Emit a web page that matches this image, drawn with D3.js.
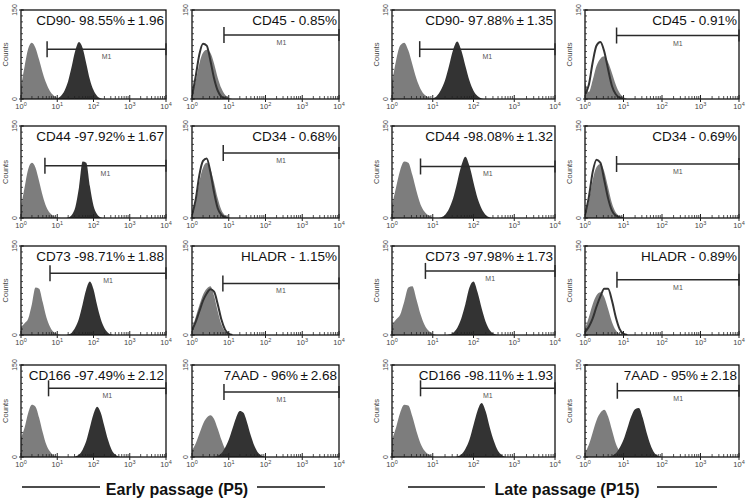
<!DOCTYPE html>
<html><head><meta charset="utf-8">
<script src="https://cdn.jsdelivr.net/npm/d3@7"></script>
<style>body{margin:0;background:#fff}svg{display:block}</style>
</head><body>
<svg id="c" width="746" height="499"></svg>
<script>
// ---------- data ----------
const decadeTicks = [1, 10, 100, 1000, 10000];
const countDomain = [0, 150];
const binStep = 0.1; // decades between samples

// panel order: row by row, columns = early(+), early(-), late(+), late(-)
const labels = [
  "CD90- 98.55%\u2009\u00b1\u20091.96", "CD45 - 0.85%", "CD90- 97.88%\u2009\u00b1\u20091.35", "CD45 - 0.91%",
  "CD44 -97.92%\u2009\u00b1\u20091.67", "CD34 - 0.68%", "CD44 -98.08%\u2009\u00b1\u20091.32", "CD34 - 0.69%",
  "CD73 -98.71%\u2009\u00b1\u20091.88", "HLADR - 1.15%", "CD73 -97.98%\u2009\u00b1\u20091.73", "HLADR - 0.89%",
  "CD166 -97.49%\u2009\u00b1\u20092.12", "7AAD - 96%\u2009\u00b1\u20092.68", "CD166 -98.11%\u2009\u00b1\u20091.93", "7AAD - 95%\u2009\u00b1\u20092.18"
];
const gateStart = [0.72, 0.87, 0.68, 0.82,  0.66, 0.85, 0.7, 0.82,  0.8, 0.84, 0.82, 0.83,  0.76, 0.87, 0.7, 0.84]; // log10 of gate start
const gateLevel = [84, 108, 84, 107,  85, 106, 84, 88,  104, 87, 108, 93,  112, 106, 112, 108]; // counts

// histogram counts, sampled every 0.1 decade starting at 10^0
const lightCounts = [
  [20, 55, 85, 95, 86, 66, 44, 26, 13, 6, 2, 1, 0],
  [8, 30, 60, 78, 83, 78, 60, 36, 18, 7, 2, 0],
  [27, 65, 90, 95, 82, 58, 34, 17, 7, 3, 1, 0],
  [30, 12, 32, 56, 68, 72, 62, 44, 24, 10, 3, 0],
  [18, 50, 80, 90, 82, 60, 36, 18, 8, 3, 1, 0],
  [6, 26, 60, 82, 90, 80, 58, 32, 13, 4, 1, 0],
  [20, 50, 78, 92, 90, 70, 44, 22, 10, 4, 1, 0],
  [6, 28, 62, 83, 88, 76, 50, 24, 9, 3, 0],
  [14, 20, 28, 52, 80, 78, 55, 30, 14, 5, 2, 0],
  [10, 30, 50, 68, 78, 82, 66, 40, 18, 6, 1, 0],
  [17, 26, 34, 56, 80, 82, 60, 35, 17, 7, 2, 0],
  [10, 30, 52, 67, 72, 64, 44, 22, 8, 2, 0],
  [31, 48, 72, 85, 82, 64, 40, 20, 9, 3, 1, 0],
  [11, 22, 38, 54, 64, 68, 62, 46, 28, 13, 5, 1, 0],
  [28, 48, 72, 85, 84, 66, 42, 22, 10, 4, 1, 0],
  [7, 20, 40, 60, 72, 77, 66, 44, 22, 9, 3, 0]
];
// dark filled histograms (positive markers and 7AAD); null where absent
const darkCounts = [
  [0,0,0,0,0,0,0,0,0,0, 1, 5, 14, 30, 55, 82, 96, 86, 60, 33, 15, 5, 1, 0],
  null,
  [0,0,0,0,0,0,0,0,0,0, 1, 5, 15, 31, 56, 83, 97, 82, 56, 31, 14, 5, 1, 0],
  null,
  [0,0,0,0,0,0,0,0,0,0,0,0,0, 1, 5, 18, 50, 92, 90, 52, 20, 6, 1, 0],
  null,
  [0,0,0,0,0,0,0,0,0,0,0,0, 1, 5, 15, 32, 58, 85, 100, 85, 58, 32, 15, 5, 1, 0],
  null,
  [0,0,0,0,0,0,0,0,0,0,0,0,0, 1, 4, 13, 28, 52, 77, 90, 77, 50, 27, 12, 4, 1, 0],
  null,
  [0,0,0,0,0,0,0,0,0,0,0,0,0,0, 1, 4, 12, 28, 52, 80, 90, 72, 45, 22, 8, 2, 0],
  null,
  [0,0,0,0,0,0,0,0,0,0,0,0,0,0,0, 1, 4, 12, 26, 48, 70, 82, 72, 50, 28, 12, 4, 1, 0],
  [0,0,0,0,0,0,0, 2, 6, 15, 28, 46, 64, 75, 72, 56, 35, 18, 7, 2, 0],
  [0,0,0,0,0,0,0,0,0,0,0,0,0,0,0,0, 1, 4, 13, 28, 52, 76, 88, 74, 48, 26, 10, 3, 0],
  [0,0,0,0,0,0,0, 2, 6, 15, 28, 47, 66, 78, 80, 64, 40, 20, 7, 2, 0]
];
// open outline histograms (negative markers); null where absent
const outlineCounts = [
  null, [5, 38, 75, 93, 90, 65, 35, 14, 4, 1, 0], null, [8, 24, 62, 90, 96, 80, 50, 22, 8, 2, 0],
  null, [5, 30, 70, 93, 97, 75, 42, 16, 5, 1, 0], null, [5, 34, 75, 95, 90, 62, 32, 12, 4, 1, 0],
  null, [8, 22, 40, 58, 70, 77, 73, 52, 26, 9, 2, 0], null, [5, 14, 28, 48, 65, 78, 78, 58, 30, 10, 2, 0],
  null, null, null, null
];
const captions = ["Early passage (P5)", "Late passage (P15)"];

// ---------- layout ----------
const colLeft = [21, 192, 392, 585], colRight = [166, 339, 555, 739];
const rowTop = [10, 126, 246, 365], rowBottom = [99, 218, 335, 457];
const lightFill = "#7d7d7d", darkFill = "#333333", outlineStroke = "#333";

const svg = d3.select("#c");
const defs = svg.append("defs");

labels.forEach((lab, i) => {
  const r = Math.floor(i / 4), c = i % 4;
  const L = colLeft[c], R = colRight[c], T = rowTop[r], B = rowBottom[r];
  const x = d3.scaleLog().domain([1, 1e4]).range([L, R]);
  const y = d3.scaleLinear().domain(countDomain).range([B, T]);
  const g = svg.append("g");
  const cid = "clip" + i;
  defs.append("clipPath").attr("id", cid).append("rect")
    .attr("x", L).attr("y", T).attr("width", R - L).attr("height", B - T);
  const plot = g.append("g").attr("clip-path", `url(#${cid})`);

  const pts = arr => arr.map((v, k) => [Math.pow(10, k * binStep), v]);
  const area = d3.area().x(d => x(d[0])).y0(y(0)).y1(d => y(d[1])).curve(d3.curveMonotoneX);
  const line = d3.line().x(d => x(d[0])).y(d => y(d[1])).curve(d3.curveMonotoneX);

  plot.append("path").datum(pts(lightCounts[i])).attr("d", area).attr("fill", lightFill);
  if (darkCounts[i]) plot.append("path").datum(pts(darkCounts[i])).attr("d", area).attr("fill", darkFill);
  if (outlineCounts[i]) plot.append("path").datum(pts(outlineCounts[i])).attr("d", line)
      .attr("fill", "none").attr("stroke", outlineStroke).attr("stroke-width", 2);

  // frame
  g.append("rect").attr("x", L).attr("y", T).attr("width", R - L).attr("height", B - T)
    .attr("fill", "none").attr("stroke", "#111").attr("stroke-width", 1.3);

  // x ticks: major + log minors
  const minor = [];
  for (let d = 1; d < 1e4; d *= 10) for (let m = 2; m <= 9; m++) minor.push(d * m);
  g.selectAll(null).data(minor).enter().append("line")
    .attr("x1", d => x(d)).attr("x2", d => x(d)).attr("y1", B).attr("y2", B - 3)
    .attr("stroke", "#222").attr("stroke-width", 0.8);
  g.selectAll(null).data(decadeTicks).enter().append("line")
    .attr("x1", d => x(d)).attr("x2", d => x(d)).attr("y1", B + 3).attr("y2", B - 4)
    .attr("stroke", "#222").attr("stroke-width", 1);
  const xl = g.selectAll(null).data(decadeTicks).enter().append("text")
    .attr("x", d => x(d)).attr("y", B + 10).attr("text-anchor", "middle")
    .attr("font-family", "Liberation Sans, Arial, sans-serif").attr("font-size", 7.5).attr("fill", "#444");
  xl.append("tspan").text("10");
  xl.append("tspan").attr("dy", -3).attr("font-size", 5.5).text(d => Math.round(Math.log10(d)));

  // y ticks
  const yt = d3.range(0, 151, 10);
  g.selectAll(null).data(yt).enter().append("line")
    .attr("x1", L).attr("x2", L + 2).attr("y1", d => y(d)).attr("y2", d => y(d))
    .attr("stroke", "#222").attr("stroke-width", 0.8);
  g.selectAll(null).data([0, 150]).enter().append("line")
    .attr("x1", L - 2).attr("x2", L + 3).attr("y1", d => y(d)).attr("y2", d => y(d))
    .attr("stroke", "#222").attr("stroke-width", 1);
  g.selectAll(null).data([0, 150]).enter().append("text")
    .attr("transform", d => `translate(${L - 4},${y(d)}) rotate(-90)`)
    .attr("text-anchor", "middle")
    .attr("font-family", "Liberation Sans, Arial, sans-serif").attr("font-size", 7).attr("fill", "#444")
    .text(d => d);
  if (c !== 1) {
    g.append("text").attr("transform", `translate(${L - 13},${(T + B) / 2}) rotate(-90)`)
      .attr("text-anchor", "middle")
      .attr("font-family", "Liberation Sans, Arial, sans-serif").attr("font-size", 7.5).attr("fill", "#444")
      .text("Counts");
  }

  // gate M1
  const gx0 = x(Math.pow(10, gateStart[i])), gx1 = x(1e4), gy = y(gateLevel[i]);
  g.append("line").attr("x1", gx0).attr("x2", gx1).attr("y1", gy).attr("y2", gy)
    .attr("stroke", "#2a2a2a").attr("stroke-width", 1.5);
  g.append("line").attr("x1", gx0).attr("x2", gx0).attr("y1", gy - 8).attr("y2", gy + 8)
    .attr("stroke", "#2a2a2a").attr("stroke-width", 1.5);
  g.append("line").attr("x1", gx1).attr("x2", gx1).attr("y1", gy - 6).attr("y2", gy + 6)
    .attr("stroke", "#2a2a2a").attr("stroke-width", 1.5);
  g.append("text").attr("x", x(Math.pow(10, (gateStart[i] + 4) / 2))).attr("y", gy + 10)
    .attr("text-anchor", "middle").attr("font-family", "Liberation Sans Narrow, Liberation Sans, sans-serif")
    .attr("font-size", 7).attr("fill", "#555").text("M1");

  // label
  g.append("text").attr("x", R - 2).attr("y", T + 15).attr("text-anchor", "end")
    .attr("font-family", "Liberation Sans, Arial, sans-serif").attr("font-size", 13.5).attr("fill", "#111")
    .text(lab);
});

// bottom captions
const capX = [177, 567], lineSeg = [[22, 100, 257, 325], [408, 485, 657, 717]];
captions.forEach((t, k) => {
  svg.append("text").attr("x", capX[k]).attr("y", 495).attr("text-anchor", "middle")
    .attr("font-family", "Liberation Sans, Arial, sans-serif").attr("font-weight", "bold")
    .attr("font-size", 16).attr("fill", "#111").text(t);
  const s = lineSeg[k];
  [[s[0], s[1]], [s[2], s[3]]].forEach(p => svg.append("line")
    .attr("x1", p[0]).attr("x2", p[1]).attr("y1", 487).attr("y2", 487)
    .attr("stroke", "#111").attr("stroke-width", 1.5));
});
</script>
</body></html>
